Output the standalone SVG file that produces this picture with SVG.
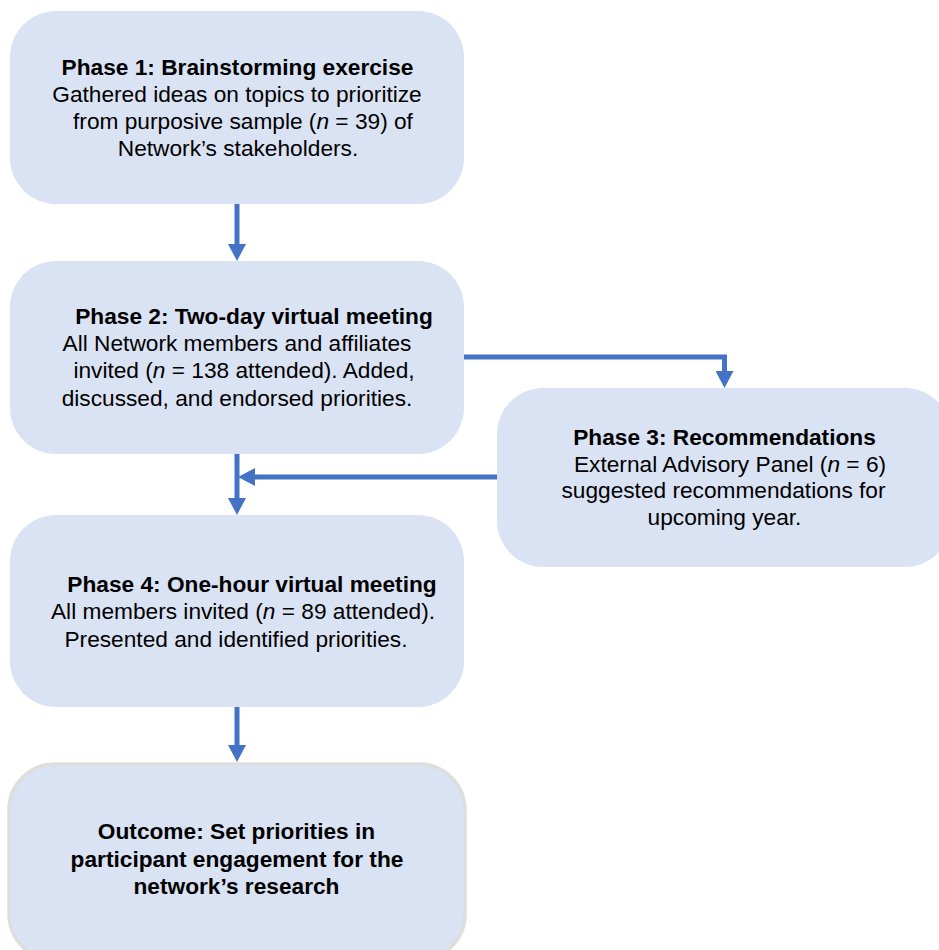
<svg xmlns="http://www.w3.org/2000/svg" width="939" height="950" viewBox="0 0 939 950">
<style>
.box{fill:#DAE3F3;}
.out{fill:#DAE3F3;stroke:#DEDEDE;stroke-width:3.5;}
.t{font-family:"Liberation Sans",Arial,sans-serif;font-size:22.7px;fill:#000;text-anchor:middle;}
.b{font-weight:bold;}
.i{font-style:italic;}
.c{fill:none;stroke:#4472C4;stroke-width:5;marker-end:url(#ah);}
</style>
<defs>
<marker id="ah" viewBox="0 0 17 18" refX="5" refY="9" markerWidth="17" markerHeight="18" orient="auto" markerUnits="userSpaceOnUse">
<path d="M0,0 L17,9 L0,18 Z" fill="#4472C4"/>
</marker>
</defs>
<rect width="939" height="950" fill="#fff"/>
<g id="connectors">
<path class="c" d="M237,204 V249"/>
<path class="c" d="M464,357 H724.5 V376"/>
<path class="c" d="M497,477 H250"/>
<path class="c" d="M237,454 V503"/>
<path class="c" d="M237,707 V750"/>
</g>
<g id="phase1">
<rect class="box" x="10" y="11" width="454" height="193" rx="46"/>
<text class="t b" x="237.5" y="75">Phase 1: Brainstorming exercise</text>
<text class="t" x="237" y="102">Gathered ideas on topics to prioritize</text>
<text class="t" x="243" y="129">from purposive sample (<tspan class="i">n</tspan> = 39) of</text>
<text class="t" x="238" y="156">Network’s stakeholders.</text>
</g>
<g id="phase2">
<rect class="box" x="10" y="261" width="454" height="193" rx="46"/>
<text class="t b" x="254" y="324">Phase 2: Two-day virtual meeting</text>
<text class="t" x="237" y="351">All Network members and affiliates</text>
<text class="t" x="244" y="378">invited (<tspan class="i">n</tspan> = 138 attended). Added,</text>
<text class="t" x="237" y="406">discussed, and endorsed priorities.</text>
</g>
<g id="phase3">
<rect class="box" x="497" y="388" width="454" height="179" rx="46"/>
<text class="t b" x="724.5" y="445">Phase 3: Recommendations</text>
<text class="t" x="730" y="472">External Advisory Panel (<tspan class="i">n</tspan> = 6)</text>
<text class="t" x="723.5" y="498">suggested recommendations for</text>
<text class="t" x="724.5" y="525">upcoming year.</text>
</g>
<g id="phase4">
<rect class="box" x="10" y="515" width="454" height="192" rx="46"/>
<text class="t b" x="252" y="592">Phase 4: One-hour virtual meeting</text>
<text class="t" x="243" y="619">All members invited (<tspan class="i">n</tspan> = 89 attended).</text>
<text class="t" x="236" y="647">Presented and identified priorities.</text>
</g>
<g id="outcome">
<rect class="out" x="9" y="764" width="456" height="196" rx="46"/>
<text class="t b" x="236.5" y="839">Outcome: Set priorities in</text>
<text class="t b" x="237" y="867">participant engagement for the</text>
<text class="t b" x="236.5" y="894">network’s research</text>
</g>
</svg>
